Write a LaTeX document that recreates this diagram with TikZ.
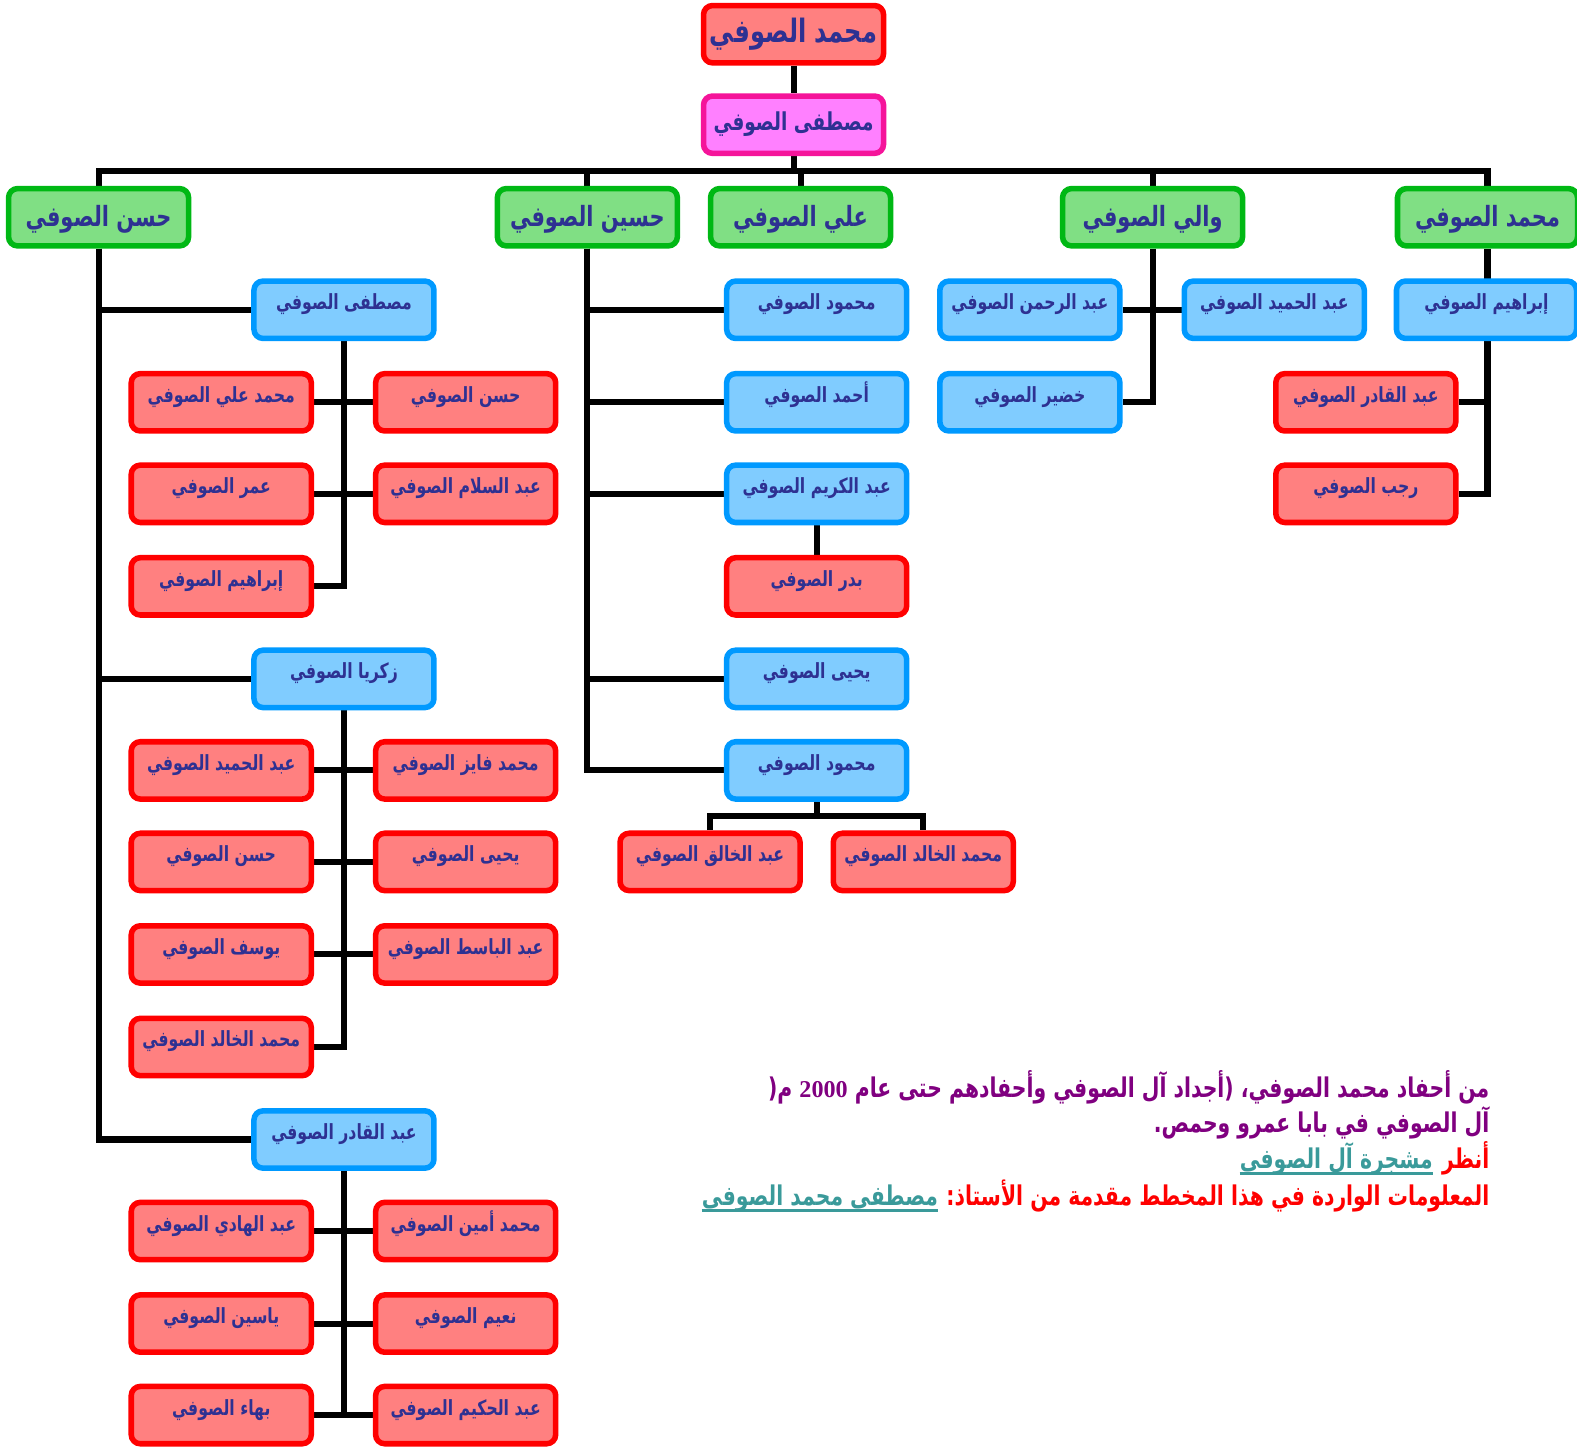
\documentclass[tikz,border=0pt]{standalone}
\usepackage{fontspec}
\usetikzlibrary{backgrounds}
\newfontfamily\arfont[Script=Arabic, FakeStretch=0.75]{DejaVu Sans}
\newfontfamily\serfont{Liberation Serif}
\TeXXeTstate=1
\definecolor{redfill}{HTML}{FF8080}
\definecolor{redline}{HTML}{FF0000}
\definecolor{bluefill}{HTML}{80CCFF}
\definecolor{blueline}{HTML}{0099FF}
\definecolor{greenfill}{HTML}{80DF84}
\definecolor{greenline}{HTML}{00B814}
\definecolor{pinkfill}{HTML}{FF80FF}
\definecolor{pinkline}{HTML}{F5149A}
\definecolor{txtc}{HTML}{2E3192}
\definecolor{purp}{HTML}{800080}
\definecolor{tealc}{HTML}{3A9A9A}
\newcommand\AR[1]{\arfont\bfseries\beginR #1\endR}
\tikzset{
  basebox/.style={rounded corners=9pt, line width=5.5pt, inner sep=0pt,
    minimum width=179pt, minimum height=57pt, text=txtc,
    font=\fontsize{20.8}{24}\selectfont, text height=19pt, text depth=19pt},
  redbox/.style={basebox, fill=redfill, draw=redline},
  bluebox/.style={basebox, fill=bluefill, draw=blueline},
  greenbox/.style={basebox, fill=greenfill, draw=greenline,
    font=\fontsize{27.7}{32}\selectfont, text height=25pt, text depth=6pt},
  pinkbox/.style={basebox, fill=pinkfill, draw=pinkline,
    font=\fontsize{24.5}{28}\selectfont, text height=22pt, text depth=11pt},
  rootbox/.style={basebox, fill=redfill, draw=redline,
    font=\fontsize{32}{36}\selectfont, text height=24pt, text depth=8pt},
  link/.style={line width=6pt, draw=black},
  foot/.style={anchor=base east, inner sep=0pt, font=\fontsize{27}{31}\selectfont},
  uline/.style={line width=3pt, draw=tealc}
}
\begin{document}
\begin{tikzpicture}[x=1pt,y=-1pt]
\useasboundingbox (0,0) rectangle (1568,1439);
% top
\node[rootbox] (root) at (789,34) {\AR{محمد الصوفي}};
\node[pinkbox] (mus) at (789,124) {\AR{مصطفى الصوفي}};
% sons
\node[greenbox] (g1) at (98,216) {\AR{حسن الصوفي}};
\node[greenbox] (g2) at (584,216) {\AR{حسين الصوفي}};
\node[greenbox] (g3) at (796,216) {\AR{علي الصوفي}};
\node[greenbox] (g4) at (1146,216) {\AR{والي الصوفي}};
\node[greenbox] (g5) at (1479,216) {\AR{محمد الصوفي}};
% Hasan branch
\node[bluebox] (b1) at (342,308) {\AR{مصطفى الصوفي}};
\node[redbox] (L11) at (220,400) {\AR{محمد علي الصوفي}};
\node[redbox] (R11) at (463,400) {\AR{حسن الصوفي}};
\node[redbox] (L12) at (220,491) {\AR{عمر الصوفي}};
\node[redbox] (R12) at (463,491) {\AR{عبد السلام الصوفي}};
\node[redbox] (L13) at (220,583) {\AR{إبراهيم الصوفي}};
\node[bluebox] (b2) at (342,675) {\AR{زكريا الصوفي}};
\node[redbox] (L21) at (220,766) {\AR{عبد الحميد الصوفي}};
\node[redbox] (R21) at (463,766) {\AR{محمد فايز الصوفي}};
\node[redbox] (L22) at (220,857) {\AR{حسن الصوفي}};
\node[redbox] (R22) at (463,857) {\AR{يحيى الصوفي}};
\node[redbox] (L23) at (220,949) {\AR{يوسف الصوفي}};
\node[redbox] (R23) at (463,949) {\AR{عبد الباسط الصوفي}};
\node[redbox] (L24) at (220,1041) {\AR{محمد الخالد الصوفي}};
\node[bluebox] (b3) at (342,1133) {\AR{عبد القادر الصوفي}};
\node[redbox] (L31) at (220,1224) {\AR{عبد الهادي الصوفي}};
\node[redbox] (R31) at (463,1224) {\AR{محمد أمين الصوفي}};
\node[redbox] (L32) at (220,1316) {\AR{ياسين الصوفي}};
\node[redbox] (R32) at (463,1316) {\AR{نعيم الصوفي}};
\node[redbox] (L33) at (220,1407) {\AR{بهاء الصوفي}};
\node[redbox] (R33) at (463,1407) {\AR{عبد الحكيم الصوفي}};
% Husayn branch
\node[bluebox] (H1) at (812,308) {\AR{محمود الصوفي}};
\node[bluebox] (H2) at (812,400) {\AR{أحمد الصوفي}};
\node[bluebox] (H3) at (812,491) {\AR{عبد الكريم الصوفي}};
\node[redbox] (H4) at (812,583) {\AR{بدر الصوفي}};
\node[bluebox] (H5) at (812,675) {\AR{يحيى الصوفي}};
\node[bluebox] (H6) at (812,766) {\AR{محمود الصوفي}};
\node[redbox] (H7) at (706,857) {\AR{عبد الخالق الصوفي}};
\node[redbox] (H8) at (918,857) {\AR{محمد الخالد الصوفي}};
% Wali branch
\node[bluebox] (W1) at (1024,308) {\AR{عبد الرحمن الصوفي}};
\node[bluebox] (W2) at (1267,308) {\AR{عبد الحميد الصوفي}};
\node[bluebox] (W3) at (1024,400) {\AR{خضير الصوفي}};
% Muhammad branch
\node[bluebox] (I1) at (1478,308) {\AR{إبراهيم الصوفي}};
\node[redbox] (M1) at (1358,400) {\AR{عبد القادر الصوفي}};
\node[redbox] (M2) at (1358,491) {\AR{رجب الصوفي}};
% connectors
\coordinate (bar) at (789,170);
\coordinate (hj) at (812,811);
\begin{scope}[on background layer]
\draw[link] (root) -- (mus);
\draw[link] (mus.south) -- (bar);
\draw[link] (g1.north) |- (bar);
\draw[link] (g5.north) |- (bar);
\draw[link] (g2.north) -- (g2.north |- bar);
\draw[link] (g3.north) -- (g3.north |- bar);
\draw[link] (g4.north) -- (g4.north |- bar);
\draw[link] (g1.south) |- (b1);
\draw[link] (g1.south) |- (b2);
\draw[link] (g1.south) |- (b3);
\draw[link] (b1.south) |- (L13);
\draw[link] (L11) -- (R11);
\draw[link] (L12) -- (R12);
\draw[link] (b2.south) |- (L24);
\draw[link] (L21) -- (R21);
\draw[link] (L22) -- (R22);
\draw[link] (L23) -- (R23);
\draw[link] (b3.south) -- (b3.south |- L33);
\draw[link] (L31) -- (R31);
\draw[link] (L32) -- (R32);
\draw[link] (L33) -- (R33);
\draw[link] (g2.south) |- (H1);
\draw[link] (g2.south) |- (H2);
\draw[link] (g2.south) |- (H3);
\draw[link] (g2.south) |- (H5);
\draw[link] (g2.south) |- (H6);
\draw[link] (H3) -- (H4);
\draw[link] (H6.south) -- (hj);
\draw[link] (H7.north) |- (hj) -| (H8.north);
\draw[link] (g4.south) |- (W3);
\draw[link] (W1) -- (W2);
\draw[link] (g5.south) |- (M2);
\draw[link] (M1) -- (M1 -| g5.south);
\end{scope}
% footer
\node[foot, text=purp] (f1) at (1481,1091) {\arfont\bfseries\beginR من أحفاد محمد الصوفي، (\kern0pt\relax أجداد آل الصوفي وأحفادهم حتى عام {\serfont\fontsize{24}{28}\selectfont 2000} م\kern0pt(\endR};
\node[foot, text=purp] (f2) at (1481,1126) {\arfont\bfseries\beginR آل الصوفي في بابا عمرو وحمص\kern0pt.\endR};
\node[foot, text=red] (f3a) at (1481,1162) {\arfont\bfseries\beginR أنظر\endR};
\node[foot, text=tealc] (f3b) at ([xshift=-9pt]f3a.base west) {\arfont\bfseries\beginR مشجرة آل الصوفي\endR};
\node[foot, text=red] (f4a) at (1481,1199) {\arfont\bfseries\beginR المعلومات الواردة في هذا المخطط مقدمة من الأستاذ\kern0pt:\endR};
\node[foot, text=tealc] (f4b) at ([xshift=-8pt]f4a.base west) {\arfont\bfseries\beginR مصطفى محمد الصوفي\endR};
\draw[uline] ([yshift=-5pt]f3b.base west) -- ([yshift=-5pt]f3b.base east);
\draw[uline] ([yshift=-5pt]f4b.base west) -- ([yshift=-5pt]f4b.base east);
\end{tikzpicture}
\end{document}
